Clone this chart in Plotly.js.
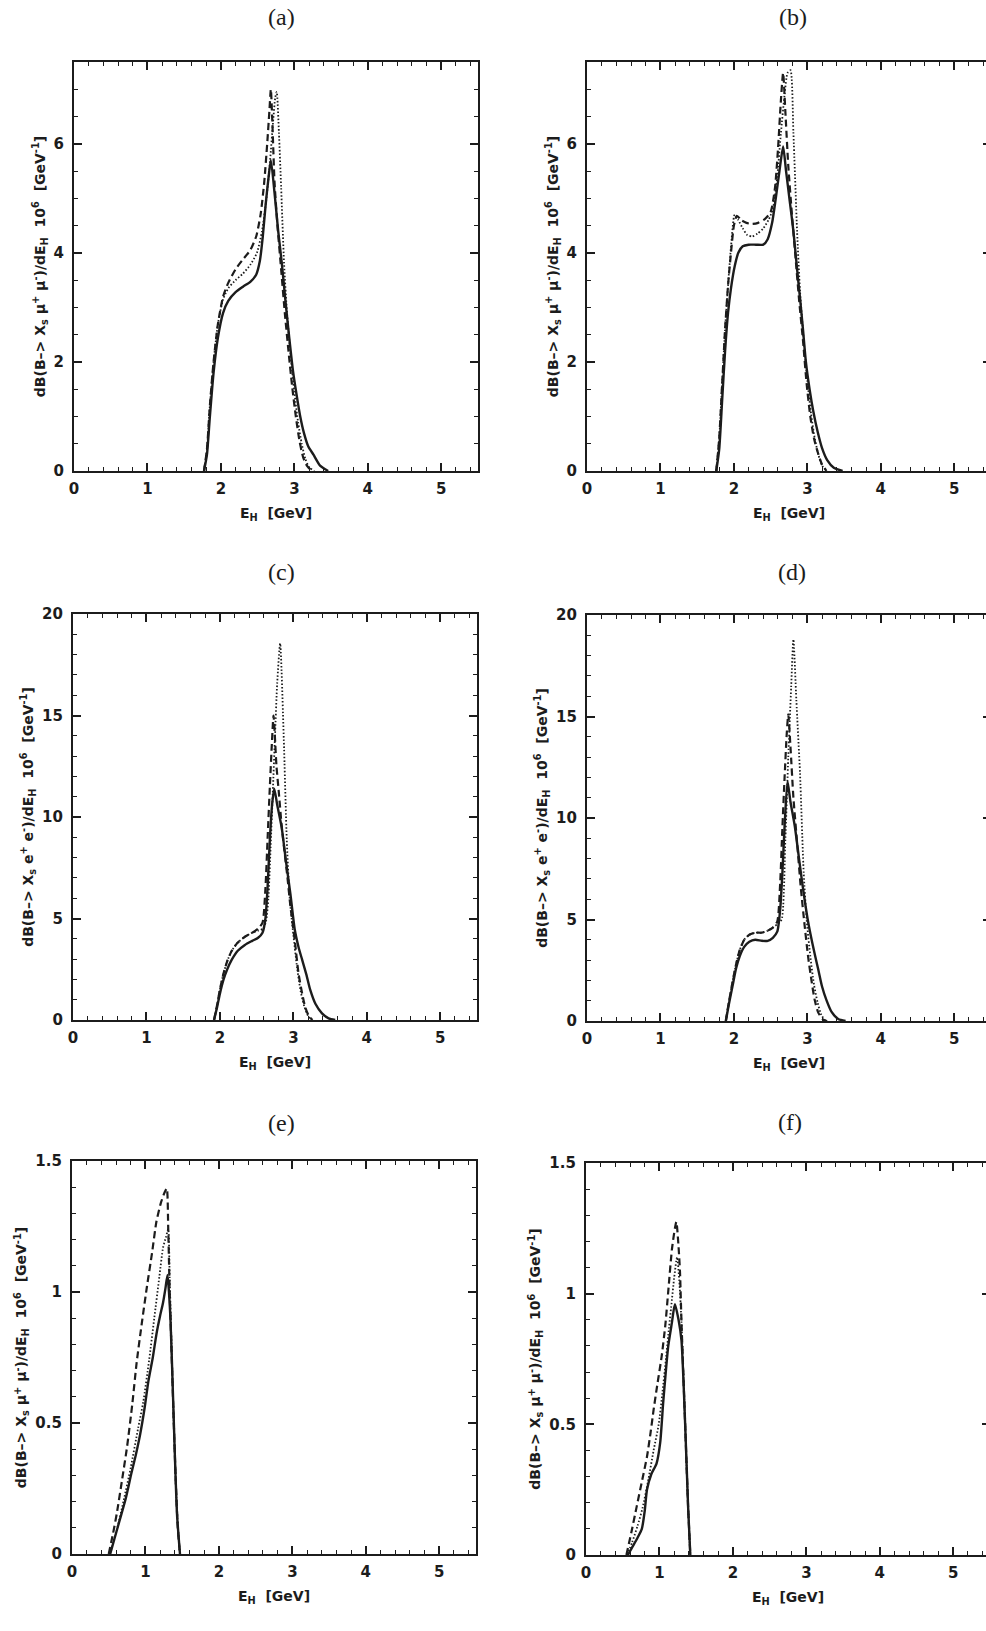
<!DOCTYPE html>
<html>
<head>
<meta charset="utf-8">
<script src="https://cdn.plot.ly/plotly-3.0.1.min.js"></script>
<style>
html, body { margin: 0; padding: 0; background: #fff; }
html { overflow: hidden; }
#chart { width: 1000px; height: 1631px; }
</style>
</head>
<body>
<div id="chart"></div>
<script>
// ---------- data ----------
const panelLabels = ["(a)", "(b)", "(c)", "(d)", "(e)", "(f)"];

// (a)
const aSolidX = [1.77, 1.81, 1.85, 1.90, 1.96, 2.03, 2.10, 2.20, 2.30, 2.40, 2.48, 2.53, 2.57, 2.61, 2.65, 2.68, 2.73, 2.78, 2.83, 2.88, 2.93, 2.98, 3.03, 3.08, 3.13, 3.19, 3.26, 3.35, 3.46];
const aSolidY = [0, 0.3, 1.0, 1.8, 2.45, 2.9, 3.12, 3.28, 3.38, 3.47, 3.6, 3.85, 4.3, 4.9, 5.4, 5.7, 5.1, 4.4, 3.8, 3.1, 2.45, 1.85, 1.4, 1.0, 0.7, 0.45, 0.3, 0.1, 0];
const aDashX = [1.77, 1.81, 1.85, 1.90, 1.96, 2.03, 2.10, 2.20, 2.30, 2.40, 2.48, 2.54, 2.59, 2.63, 2.66, 2.68, 2.70, 2.73, 2.77, 2.82, 2.87, 2.92, 2.97, 3.02, 3.07, 3.12, 3.17, 3.22, 3.27];
const aDashY = [0, 0.4, 1.2, 2.0, 2.7, 3.2, 3.45, 3.7, 3.88, 4.05, 4.3, 4.7, 5.3, 6.0, 6.6, 7.0, 6.4, 5.3, 4.5, 3.7, 2.9, 2.2, 1.55, 1.0, 0.55, 0.25, 0.1, 0.03, 0];
const aDotX = [1.77, 1.81, 1.85, 1.90, 1.96, 2.03, 2.10, 2.20, 2.30, 2.40, 2.49, 2.56, 2.62, 2.67, 2.71, 2.74, 2.76, 2.79, 2.82, 2.86, 2.90, 2.95, 3.00, 3.05, 3.10, 3.15, 3.20, 3.27];
const aDotY = [0, 0.4, 1.2, 2.0, 2.7, 3.15, 3.35, 3.5, 3.62, 3.78, 4.0, 4.4, 5.0, 5.7, 6.4, 6.85, 6.95, 6.2, 5.2, 3.8, 2.9, 2.1, 1.45, 0.9, 0.5, 0.22, 0.07, 0];

// (b)
const bSolidX = [1.76, 1.80, 1.84, 1.88, 1.92, 1.96, 2.01, 2.06, 2.12, 2.20, 2.30, 2.40, 2.46, 2.52, 2.57, 2.62, 2.67, 2.71, 2.76, 2.81, 2.86, 2.90, 2.94, 2.98, 3.03, 3.08, 3.14, 3.20, 3.27, 3.36, 3.48];
const bSolidY = [0, 0.4, 1.3, 2.2, 2.9, 3.35, 3.75, 4.0, 4.12, 4.15, 4.15, 4.15, 4.25, 4.55, 5.0, 5.5, 5.95, 5.5, 4.95, 4.4, 3.7, 3.17, 2.6, 2.0, 1.5, 1.1, 0.72, 0.42, 0.2, 0.06, 0];
const bDashX = [1.76, 1.80, 1.84, 1.88, 1.92, 1.96, 2.00, 2.04, 2.10, 2.17, 2.25, 2.33, 2.42, 2.50, 2.56, 2.60, 2.64, 2.67, 2.70, 2.74, 2.79, 2.84, 2.89, 2.94, 2.99, 3.04, 3.09, 3.14, 3.20, 3.26];
const bDashY = [0, 0.6, 1.6, 2.6, 3.4, 4.0, 4.5, 4.68, 4.6, 4.55, 4.53, 4.55, 4.62, 4.75, 5.2, 5.9, 6.8, 7.3, 6.6, 5.6, 4.7, 3.9, 3.1, 2.4, 1.6, 1.0, 0.6, 0.35, 0.12, 0];
const bDotX = [1.76, 1.80, 1.84, 1.88, 1.92, 1.96, 2.01, 2.06, 2.12, 2.18, 2.25, 2.32, 2.40, 2.47, 2.53, 2.59, 2.64, 2.69, 2.73, 2.77, 2.81, 2.86, 2.90, 2.95, 3.00, 3.05, 3.10, 3.15, 3.20, 3.27];
const bDotY = [0, 0.6, 1.6, 2.6, 3.4, 4.1, 4.7, 4.6, 4.45, 4.33, 4.3, 4.35, 4.45, 4.6, 4.8, 5.4, 6.2, 6.9, 7.3, 7.35, 6.2, 4.4, 3.3, 2.4, 1.65, 1.05, 0.6, 0.3, 0.1, 0];

// (c)
const cSolidX = [1.92, 1.96, 2.00, 2.05, 2.10, 2.16, 2.24, 2.34, 2.44, 2.52, 2.58, 2.62, 2.65, 2.68, 2.71, 2.74, 2.78, 2.84, 2.90, 2.96, 3.02, 3.07, 3.12, 3.18, 3.23, 3.30, 3.39, 3.48, 3.57];
const cSolidY = [0, 0.6, 1.3, 2.0, 2.5, 2.96, 3.4, 3.7, 3.9, 4.05, 4.3, 5.0, 6.6, 8.9, 10.6, 11.4, 10.6, 9.5, 7.8, 6.2, 4.43, 3.6, 2.96, 2.2, 1.48, 0.8, 0.33, 0.08, 0];
const cDashX = [1.92, 1.96, 2.00, 2.05, 2.10, 2.16, 2.24, 2.34, 2.44, 2.52, 2.58, 2.62, 2.65, 2.68, 2.71, 2.73, 2.77, 2.80, 2.84, 2.87, 2.92, 2.96, 3.02, 3.07, 3.12, 3.16, 3.21, 3.26];
const cDashY = [0, 0.7, 1.5, 2.3, 2.9, 3.4, 3.8, 4.1, 4.3, 4.5, 4.8, 6.5, 9.0, 11.5, 13.8, 15.0, 12.5, 11.3, 9.6, 8.6, 7.0, 5.6, 3.9, 2.3, 1.3, 0.65, 0.2, 0];
const cDotX = [1.92, 1.96, 2.00, 2.05, 2.10, 2.16, 2.24, 2.34, 2.44, 2.52, 2.59, 2.63, 2.66, 2.69, 2.72, 2.75, 2.78, 2.82, 2.87, 2.91, 2.95, 3.00, 3.05, 3.10, 3.15, 3.20, 3.25];
const cDotY = [0, 0.7, 1.5, 2.3, 2.9, 3.4, 3.8, 4.1, 4.3, 4.4, 4.5, 4.9, 6.0, 8.5, 11.2, 14.0, 16.6, 18.55, 13.8, 8.9, 6.0, 4.2, 2.6, 1.4, 0.65, 0.2, 0];

// (d)
const dSolidX = [1.89, 1.93, 1.98, 2.03, 2.08, 2.14, 2.21, 2.29, 2.38, 2.46, 2.53, 2.59, 2.63, 2.66, 2.69, 2.73, 2.77, 2.83, 2.89, 2.95, 3.00, 3.04, 3.10, 3.15, 3.20, 3.26, 3.33, 3.42, 3.52];
const dSolidY = [0, 0.8, 1.7, 2.6, 3.2, 3.65, 3.9, 4.0, 3.95, 3.95, 4.1, 4.4, 5.5, 7.3, 9.6, 11.8, 10.8, 9.57, 7.9, 6.29, 5.1, 4.32, 3.3, 2.51, 1.7, 1.03, 0.45, 0.1, 0];
const dDashX = [1.89, 1.93, 1.98, 2.03, 2.08, 2.14, 2.21, 2.29, 2.38, 2.46, 2.53, 2.59, 2.63, 2.66, 2.69, 2.72, 2.74, 2.77, 2.81, 2.86, 2.91, 2.96, 3.01, 3.06, 3.10, 3.15, 3.22, 3.27];
const dDashY = [0, 0.9, 1.9, 2.8, 3.5, 4.0, 4.25, 4.35, 4.35, 4.45, 4.6, 4.9, 6.8, 9.5, 12.0, 14.2, 15.1, 13.5, 11.0, 8.8, 6.6, 4.8, 3.17, 1.9, 1.03, 0.4, 0.05, 0];
const dDotX = [1.89, 1.93, 1.98, 2.03, 2.08, 2.14, 2.21, 2.29, 2.38, 2.46, 2.53, 2.60, 2.65, 2.70, 2.74, 2.78, 2.81, 2.85, 2.90, 2.95, 2.99, 3.04, 3.09, 3.14, 3.19, 3.25];
const dDotY = [0, 0.9, 1.9, 2.8, 3.5, 4.0, 4.25, 4.35, 4.35, 4.45, 4.6, 4.8, 5.0, 8.9, 13.0, 16.5, 18.8, 15.8, 12.2, 7.3, 5.0, 3.2, 1.8, 0.9, 0.3, 0];

// (e)
const eSolidX = [0.52, 0.58, 0.65, 0.73, 0.81, 0.87, 0.93, 0.99, 1.04, 1.10, 1.15, 1.20, 1.24, 1.27, 1.30, 1.32, 1.34, 1.37, 1.40, 1.43, 1.47];
const eSolidY = [0, 0.06, 0.13, 0.21, 0.31, 0.38, 0.46, 0.56, 0.66, 0.75, 0.84, 0.91, 0.96, 1.01, 1.065, 1.0, 0.9, 0.65, 0.38, 0.15, 0];
const eDashX = [0.50, 0.56, 0.61, 0.68, 0.75, 0.82, 0.88, 0.95, 1.02, 1.09, 1.15, 1.21, 1.26, 1.29, 1.31, 1.33, 1.35, 1.38, 1.41, 1.44, 1.47];
const eDashY = [0, 0.08, 0.155, 0.28, 0.41, 0.57, 0.73, 0.88, 1.02, 1.15, 1.27, 1.34, 1.38, 1.395, 1.24, 1.0, 0.82, 0.55, 0.3, 0.1, 0];
const eDotX = [0.51, 0.60, 0.70, 0.80, 0.90, 0.97, 1.05, 1.12, 1.19, 1.24, 1.28, 1.31, 1.33, 1.35, 1.38, 1.42, 1.45, 1.47];
const eDotY = [0, 0.08, 0.2, 0.33, 0.48, 0.58, 0.74, 0.9, 1.06, 1.17, 1.21, 1.24, 1.05, 0.85, 0.55, 0.22, 0.07, 0];

// (f)
const fSolidX = [0.57, 0.63, 0.70, 0.76, 0.80, 0.83, 0.89, 0.96, 1.01, 1.05, 1.08, 1.12, 1.17, 1.21, 1.26, 1.30, 1.35, 1.39, 1.42];
const fSolidY = [0, 0.03, 0.065, 0.1, 0.17, 0.25, 0.31, 0.35, 0.43, 0.58, 0.68, 0.80, 0.89, 0.96, 0.9, 0.82, 0.50, 0.185, 0];
const fDashX = [0.55, 0.62, 0.69, 0.76, 0.83, 0.88, 0.92, 0.97, 1.03, 1.08, 1.12, 1.17, 1.21, 1.23, 1.26, 1.28, 1.30, 1.35, 1.39, 1.42];
const fDashY = [0, 0.09, 0.185, 0.28, 0.376, 0.47, 0.555, 0.65, 0.76, 0.88, 1.01, 1.17, 1.25, 1.275, 1.18, 1.08, 0.89, 0.5, 0.185, 0];
const fDotX = [0.56, 0.63, 0.70, 0.77, 0.85, 0.92, 0.99, 1.04, 1.09, 1.13, 1.16, 1.20, 1.24, 1.27, 1.30, 1.35, 1.39, 1.42];
const fDotY = [0, 0.05, 0.11, 0.18, 0.29, 0.4, 0.50, 0.62, 0.755, 0.87, 0.95, 1.06, 1.14, 1.05, 0.89, 0.5, 0.185, 0];

// tick labels
const xTickVals = [0, 1, 2, 3, 4, 5];
const xTickText = ['0', '1', '2', '3', '4', '5'];
const yTickValsMu = [0, 2, 4, 6];
const yTickTextMu = ['0', '2', '4', '6'];
const yTickValsEE = [0, 5, 10, 15, 20];
const yTickTextEE = ['0', '5', '10', '15', '20'];
const yTickValsLow = [0, 0.5, 1, 1.5];
const yTickTextLow = ['0', '0.5', '1', '1.5'];

// axis ranges / minor ticks per panel
const yRanges = [[0, 7.5], [0, 7.5], [0, 20], [0, 20], [0, 1.5], [0, 1.5]];
const yTicks = [[yTickValsMu, yTickTextMu], [yTickValsMu, yTickTextMu], [yTickValsEE, yTickTextEE], [yTickValsEE, yTickTextEE], [yTickValsLow, yTickTextLow], [yTickValsLow, yTickTextLow]];
const yMinor = [0.5, 0.5, 1, 1, 0.1, 0.1];
const xRange = [0, 5.5];

const muTitle = '<b>dB(B\u2013> X<sub>s</sub> \u03bc<sup>+</sup> \u03bc<sup>-</sup>)/dE<sub>H</sub>\u00a0 10<sup>6</sup>\u00a0 [GeV<sup>-1</sup>]</b>';
const eTitle = '<b>dB(B\u2013> X<sub>s</sub> e<sup>+</sup> e<sup>-</sup>)/dE<sub>H</sub>\u00a0 10<sup>6</sup>\u00a0 [GeV<sup>-1</sup>]</b>';
const yTitles = [muTitle, muTitle, eTitle, eTitle, muTitle, muTitle];
const xTitle = '<b>E<sub>H</sub>\u00a0 [GeV]</b>';

// ---------- layout geometry (pixel boxes) ----------
const W = 1000, H = 1631;
const boxes = [
  {l: 74, r: 478, t: 62, b: 471},
  {l: 587, r: 991, t: 62, b: 471},
  {l: 73, r: 477, t: 614, b: 1020},
  {l: 587, r: 991, t: 615, b: 1021},
  {l: 72, r: 476, t: 1161, b: 1554},
  {l: 586, r: 990, t: 1163, b: 1555}
];
const labelPos = [[281, 17], [793, 17], [281, 572], [792, 572], [281, 1123], [790, 1122]];

const series = [
  [[aSolidX, aSolidY], [aDashX, aDashY], [aDotX, aDotY]],
  [[bSolidX, bSolidY], [bDashX, bDashY], [bDotX, bDotY]],
  [[cSolidX, cSolidY], [cDashX, cDashY], [cDotX, cDotY]],
  [[dSolidX, dSolidY], [dDashX, dDashY], [dDotX, dDotY]],
  [[eSolidX, eSolidY], [eDashX, eDashY], [eDotX, eDotY]],
  [[fSolidX, fSolidY], [fDashX, fDashY], [fDotX, fDotY]]
];

const ink = '#1c1c1c';
const styles = [
  {dash: 'solid', width: 2.4},
  {dash: '7px,4px', width: 2.2},
  {dash: '1.5px,2px', width: 1.8}
];
const names = ['solid', 'dashed', 'dotted'];

const sansFam = 'DejaVu Sans, Liberation Sans, Arial, sans-serif';
const traces = [];
const layout = {
  width: W, height: H,
  margin: {l: 0, r: 0, t: 0, b: 0},
  paper_bgcolor: '#ffffff', plot_bgcolor: '#ffffff',
  font: {family: sansFam, size: 14, color: ink},
  showlegend: false,
  annotations: []
};

const tickFont = {family: sansFam, size: 15, color: ink};
const bold = t => '<b>' + t + '</b>';

for (let i = 0; i < 6; i++) {
  const n = i === 0 ? '' : String(i + 1);
  const bx = boxes[i];
  series[i].forEach((s, k) => {
    traces.push({
      x: s[0], y: s[1], type: 'scatter', mode: 'lines',
      name: panelLabels[i] + ' ' + names[k],
      xaxis: 'x' + n, yaxis: 'y' + n,
      line: {color: ink, width: styles[k].width, dash: styles[k].dash, shape: 'spline', smoothing: 0.6},
      hoverinfo: 'skip'
    });
  });
  const common = {
    showline: true, linewidth: 2.2, linecolor: ink, mirror: 'ticks',
    ticks: 'inside', ticklen: 8, tickwidth: 1.6, tickcolor: ink,
    showgrid: false, zeroline: false, automargin: false,
    tickfont: tickFont, fixedrange: true, tickmode: 'array'
  };
  layout['xaxis' + n] = Object.assign({}, common, {
    domain: [bx.l / W, bx.r / W], anchor: 'y' + n,
    range: xRange, tickvals: xTickVals, ticktext: xTickText.map(bold),
    minor: {ticks: 'inside', ticklen: 4, tickwidth: 1.3, tickcolor: ink, tick0: 0, dtick: 0.2, showgrid: false},
    ticklabelstandoff: 3,
    title: {text: xTitle, font: {family: sansFam, size: 14, color: ink}, standoff: 11}
  });
  layout['yaxis' + n] = Object.assign({}, common, {
    domain: [1 - bx.b / H, 1 - bx.t / H], anchor: 'x' + n,
    range: yRanges[i], tickvals: yTicks[i][0], ticktext: yTicks[i][1].map(bold),
    minor: {ticks: 'inside', ticklen: 4, tickwidth: 1.3, tickcolor: ink, tick0: 0, dtick: yMinor[i], showgrid: false},
    ticklabelstandoff: 5,
    title: {text: yTitles[i], font: {family: sansFam, size: 14, color: ink}, standoff: 5}
  });
  layout.annotations.push({
    text: panelLabels[i], xref: 'paper', yref: 'paper',
    x: labelPos[i][0] / W, y: 1 - labelPos[i][1] / H,
    xanchor: 'center', yanchor: 'middle', showarrow: false,
    font: {family: 'Liberation Serif, Times New Roman, serif', size: 24, color: ink}
  });
}

Plotly.newPlot('chart', traces, layout, {displayModeBar: false});
</script>
</body>
</html>
